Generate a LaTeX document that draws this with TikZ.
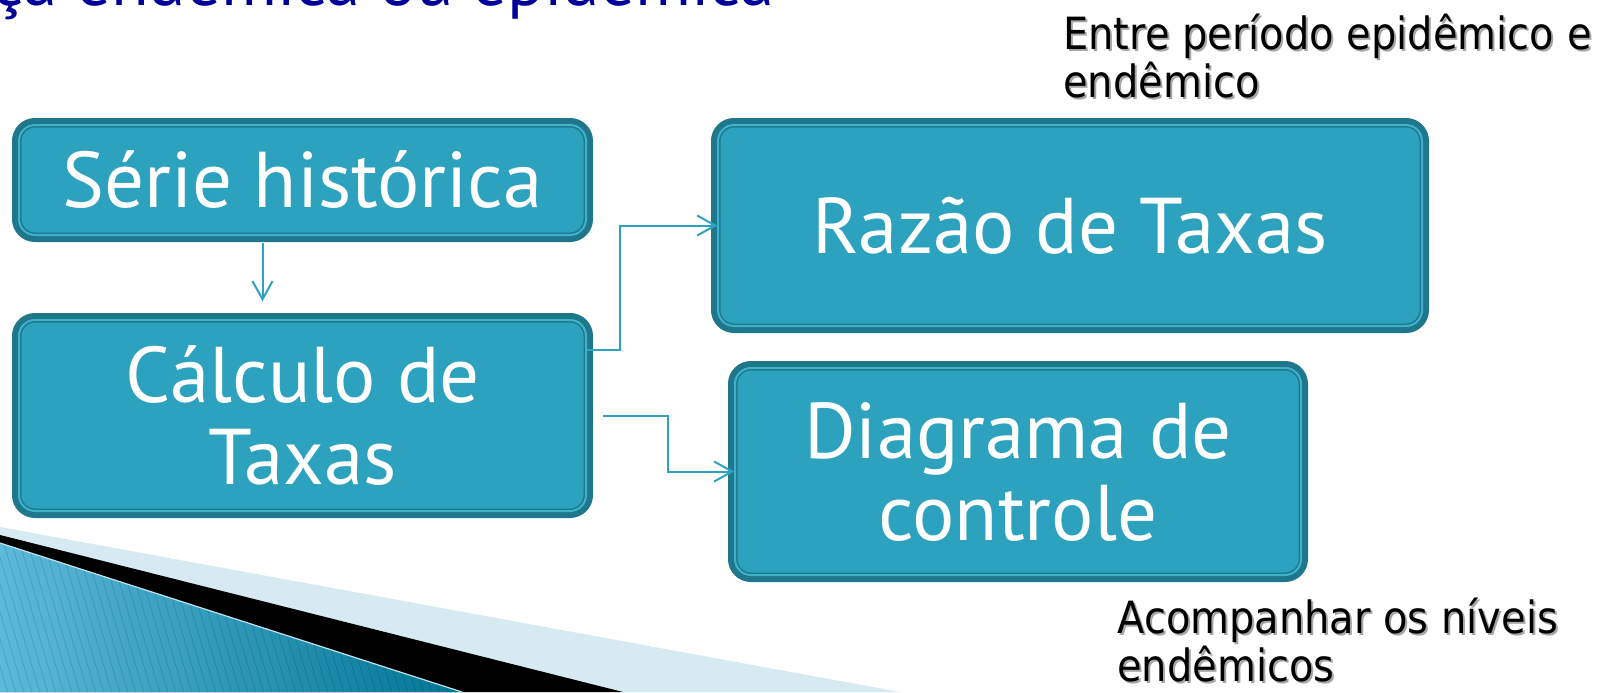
\documentclass[tikz,border=0pt]{standalone}
\usepackage{fontspec}
\setmainfont{PT Sans}
\newfontfamily\rotulofont[FakeStretch=0.9]{DejaVu Sans}
\usetikzlibrary{positioning, arrows.meta}
\definecolor{azulcaixa}{RGB}{45,162,191}
\definecolor{borda}{RGB}{31,119,140}
\definecolor{brilho}{RGB}{62,178,205}
\definecolor{azulseta}{RGB}{46,163,192}
\definecolor{azultitulo}{RGB}{0,0,153}
\definecolor{faixa}{RGB}{215,234,241}
\definecolor{listraA}{RGB}{92,186,218}
\definecolor{listraB}{RGB}{0,116,148}
\newcommand{\sombra}[1]{\leavevmode\rlap{\kern1pt\raisebox{-1pt}{\textcolor{black!35}{#1}}}#1}
\tikzstyle{caixa} = [rectangle, rounded corners=8pt, fill=azulcaixa, draw=borda, line width=0.75pt, double=brilho, double distance=1pt, preaction={draw=borda, line width=7pt}, text=white, font=\fontsize{39.5}{41}\selectfont, align=center, inner sep=0pt]
\tikzstyle{conn} = [draw=azulseta, line width=1pt, -{Straight Barb[length=9pt, width=10pt]}]
\tikzstyle{rotulo} = [font=\rotulofont\fontsize{22.2}{23.7}\selectfont, align=left, inner sep=0pt]
\tikzstyle{listra} = [draw=black, opacity=0.12, line width=0.4pt]

\begin{document}
\begin{tikzpicture}[x=0.5pt, y=-0.5pt]
	\useasboundingbox (0,0) rectangle (1608,692);
	\clip (0,0) rectangle (1608,692);

	% faixa no canto inferior
	\fill [faixa] (0,527) -- (900,692) -- (0,692) -- cycle;
	\fill [black] (0,535) -- (623,692) -- (0,692) -- cycle;
	\begin{scope}
		\clip (0,543) -- (462,692) -- (0,692) -- cycle;
		\shade [left color=listraA, right color=listraB] (0,530) rectangle (470,692);
		\foreach \i in {-200,-192,...,470}
			\draw [listra] (\i,530) -- ++(50,170);
	\end{scope}
	\draw [white!60!listraA, line width=0.6pt] (0,543) -- (462,692);

	\node [font=\fontsize{34.5}{36}\selectfont, text=azultitulo, anchor=base west, inner sep=0pt] (titulo) at (-8,5) {ça endêmica ou epidêmica};

	\node [caixa, minimum width=283.5pt, minimum height=55pt] (serie) at (302.5,180) {Série histórica};
	\node [caixa, minimum width=283.5pt, minimum height=95.5pt] (calculo) at (302.5,415.5) {Cálculo de\\Taxas};
	\node [caixa, minimum width=352pt, minimum height=100.5pt] (razao) at (1070,225.5) {Razão de Taxas};
	\node [caixa, minimum width=283pt, minimum height=103.5pt] (diagrama) at (1018,471.5) {Diagrama de\\controle};

	\node [rotulo, anchor=base west] (nota1) at (1063,97) {\sombra{Entre período epidêmico e}\\\sombra{endêmico}};
	\node [rotulo, anchor=base west] (nota2) at (1117,681) {\sombra{Acompanhar os níveis}\\\sombra{endêmicos}};

	\draw [conn, shorten <=3.5pt, shorten >=9pt] ([xshift=-20pt]serie.south) -- ([xshift=-20pt]calculo.north);
	\draw [conn] ([yshift=32.75pt]calculo.east) -- ++(33,0) |- (razao.west);
	\draw [conn] ([xshift=8pt]calculo.east) -- ++(65,0) |- (diagrama.west);
\end{tikzpicture}
\end{document}
